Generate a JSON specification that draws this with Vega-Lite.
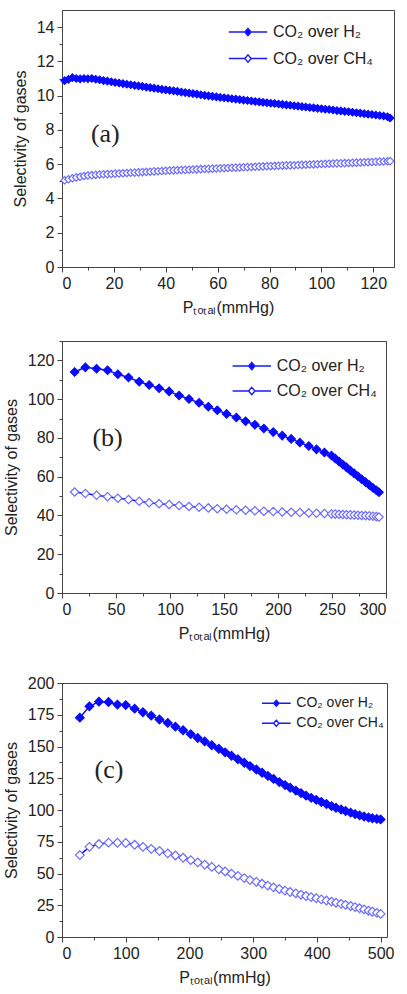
{
  "$schema": "https://vega.github.io/schema/vega-lite/v6.json",
  "background": "white",
  "padding": {"left": 2, "top": 9, "right": 5, "bottom": 2},
  "config": {
    "view": {"stroke": "#444", "strokeWidth": 1},
    "axis": {"labelFont": "Liberation Sans", "labelFontSize": 16, "labelColor": "#222", "titleFont": "Liberation Sans", "titleFontSize": 16, "titleFontWeight": "normal", "titleColor": "#222", "domainColor": "#444", "tickColor": "#444", "grid": false, "labelPadding": 3, "titlePadding": 8, "tickSize": 5}
  },
  "resolve": {"scale": {"fill": "independent"}, "legend": {"fill": "independent"}},
  "datasets": {
    "a": [
      {"p":1,"g":"H2","s":10.88},{"p":2.5,"g":"H2","s":10.95},{"p":4,"g":"H2","s":11.05},{"p":5.5,"g":"H2","s":11.0},{"p":7,"g":"H2","s":10.98},{"p":8.5,"g":"H2","s":11.0},{"p":10,"g":"H2","s":10.99},{"p":11.5,"g":"H2","s":11.0},{"p":13,"g":"H2","s":10.96},{"p":14.5,"g":"H2","s":10.93},{"p":16,"g":"H2","s":10.88},{"p":17.5,"g":"H2","s":10.85},{"p":19,"g":"H2","s":10.81},{"p":20.5,"g":"H2","s":10.77},{"p":22,"g":"H2","s":10.74},{"p":23.5,"g":"H2","s":10.70},{"p":25,"g":"H2","s":10.67},{"p":26.5,"g":"H2","s":10.64},{"p":28,"g":"H2","s":10.60},{"p":29.5,"g":"H2","s":10.57},{"p":31,"g":"H2","s":10.54},{"p":32.5,"g":"H2","s":10.50},{"p":34,"g":"H2","s":10.47},{"p":35.5,"g":"H2","s":10.44},{"p":37,"g":"H2","s":10.40},{"p":38.5,"g":"H2","s":10.37},{"p":40,"g":"H2","s":10.34},{"p":41.5,"g":"H2","s":10.31},{"p":43,"g":"H2","s":10.28},{"p":44.5,"g":"H2","s":10.25},{"p":46,"g":"H2","s":10.21},{"p":47.5,"g":"H2","s":10.18},{"p":49,"g":"H2","s":10.15},{"p":50.5,"g":"H2","s":10.12},{"p":52,"g":"H2","s":10.09},{"p":53.5,"g":"H2","s":10.05},{"p":55,"g":"H2","s":10.02},{"p":56.5,"g":"H2","s":9.99},{"p":58,"g":"H2","s":9.96},{"p":59.5,"g":"H2","s":9.93},{"p":61,"g":"H2","s":9.90},{"p":62.5,"g":"H2","s":9.88},{"p":64,"g":"H2","s":9.85},{"p":65.5,"g":"H2","s":9.82},{"p":67,"g":"H2","s":9.80},{"p":68.5,"g":"H2","s":9.77},{"p":70,"g":"H2","s":9.74},{"p":71.5,"g":"H2","s":9.72},{"p":73,"g":"H2","s":9.69},{"p":74.5,"g":"H2","s":9.66},{"p":76,"g":"H2","s":9.64},{"p":77.5,"g":"H2","s":9.61},{"p":79,"g":"H2","s":9.59},{"p":80.5,"g":"H2","s":9.56},{"p":82,"g":"H2","s":9.54},{"p":83.5,"g":"H2","s":9.51},{"p":85,"g":"H2","s":9.49},{"p":86.5,"g":"H2","s":9.46},{"p":88,"g":"H2","s":9.44},{"p":89.5,"g":"H2","s":9.41},{"p":91,"g":"H2","s":9.39},{"p":92.5,"g":"H2","s":9.36},{"p":94,"g":"H2","s":9.34},{"p":95.5,"g":"H2","s":9.31},{"p":97,"g":"H2","s":9.29},{"p":98.5,"g":"H2","s":9.26},{"p":100,"g":"H2","s":9.24},{"p":101.5,"g":"H2","s":9.21},{"p":103,"g":"H2","s":9.19},{"p":104.5,"g":"H2","s":9.16},{"p":106,"g":"H2","s":9.13},{"p":107.5,"g":"H2","s":9.11},{"p":109,"g":"H2","s":9.08},{"p":110.5,"g":"H2","s":9.06},{"p":112,"g":"H2","s":9.03},{"p":113.5,"g":"H2","s":9.00},{"p":115,"g":"H2","s":8.98},{"p":116.5,"g":"H2","s":8.95},{"p":118,"g":"H2","s":8.92},{"p":119.5,"g":"H2","s":8.90},{"p":121,"g":"H2","s":8.87},{"p":122.5,"g":"H2","s":8.84},{"p":124,"g":"H2","s":8.81},{"p":125.5,"g":"H2","s":8.77},{"p":126.5,"g":"H2","s":8.70},
      {"p":1,"g":"CH4","s":5.06},{"p":2.5,"g":"CH4","s":5.12},{"p":4,"g":"CH4","s":5.18},{"p":5.5,"g":"CH4","s":5.23},{"p":7,"g":"CH4","s":5.27},{"p":8.5,"g":"CH4","s":5.31},{"p":10,"g":"CH4","s":5.34},{"p":11.5,"g":"CH4","s":5.36},{"p":13,"g":"CH4","s":5.38},{"p":14.5,"g":"CH4","s":5.40},{"p":16,"g":"CH4","s":5.41},{"p":17.5,"g":"CH4","s":5.42},{"p":19,"g":"CH4","s":5.43},{"p":20.5,"g":"CH4","s":5.45},{"p":22,"g":"CH4","s":5.46},{"p":23.5,"g":"CH4","s":5.47},{"p":25,"g":"CH4","s":5.49},{"p":26.5,"g":"CH4","s":5.50},{"p":28,"g":"CH4","s":5.51},{"p":29.5,"g":"CH4","s":5.52},{"p":31,"g":"CH4","s":5.54},{"p":32.5,"g":"CH4","s":5.55},{"p":34,"g":"CH4","s":5.56},{"p":35.5,"g":"CH4","s":5.58},{"p":37,"g":"CH4","s":5.59},{"p":38.5,"g":"CH4","s":5.60},{"p":40,"g":"CH4","s":5.62},{"p":41.5,"g":"CH4","s":5.63},{"p":43,"g":"CH4","s":5.64},{"p":44.5,"g":"CH4","s":5.65},{"p":46,"g":"CH4","s":5.66},{"p":47.5,"g":"CH4","s":5.67},{"p":49,"g":"CH4","s":5.68},{"p":50.5,"g":"CH4","s":5.69},{"p":52,"g":"CH4","s":5.70},{"p":53.5,"g":"CH4","s":5.71},{"p":55,"g":"CH4","s":5.72},{"p":56.5,"g":"CH4","s":5.73},{"p":58,"g":"CH4","s":5.74},{"p":59.5,"g":"CH4","s":5.75},{"p":61,"g":"CH4","s":5.76},{"p":62.5,"g":"CH4","s":5.77},{"p":64,"g":"CH4","s":5.78},{"p":65.5,"g":"CH4","s":5.79},{"p":67,"g":"CH4","s":5.80},{"p":68.5,"g":"CH4","s":5.81},{"p":70,"g":"CH4","s":5.82},{"p":71.5,"g":"CH4","s":5.83},{"p":73,"g":"CH4","s":5.84},{"p":74.5,"g":"CH4","s":5.85},{"p":76,"g":"CH4","s":5.86},{"p":77.5,"g":"CH4","s":5.87},{"p":79,"g":"CH4","s":5.88},{"p":80.5,"g":"CH4","s":5.89},{"p":82,"g":"CH4","s":5.90},{"p":83.5,"g":"CH4","s":5.91},{"p":85,"g":"CH4","s":5.92},{"p":86.5,"g":"CH4","s":5.93},{"p":88,"g":"CH4","s":5.93},{"p":89.5,"g":"CH4","s":5.94},{"p":91,"g":"CH4","s":5.95},{"p":92.5,"g":"CH4","s":5.96},{"p":94,"g":"CH4","s":5.97},{"p":95.5,"g":"CH4","s":5.98},{"p":97,"g":"CH4","s":5.99},{"p":98.5,"g":"CH4","s":6.00},{"p":100,"g":"CH4","s":6.01},{"p":101.5,"g":"CH4","s":6.02},{"p":103,"g":"CH4","s":6.03},{"p":104.5,"g":"CH4","s":6.04},{"p":106,"g":"CH4","s":6.05},{"p":107.5,"g":"CH4","s":6.05},{"p":109,"g":"CH4","s":6.06},{"p":110.5,"g":"CH4","s":6.07},{"p":112,"g":"CH4","s":6.08},{"p":113.5,"g":"CH4","s":6.09},{"p":115,"g":"CH4","s":6.10},{"p":116.5,"g":"CH4","s":6.11},{"p":118,"g":"CH4","s":6.12},{"p":119.5,"g":"CH4","s":6.13},{"p":121,"g":"CH4","s":6.14},{"p":122.5,"g":"CH4","s":6.15},{"p":124,"g":"CH4","s":6.16},{"p":125.5,"g":"CH4","s":6.17},{"p":126.5,"g":"CH4","s":6.18}
    ],
    "b": [
      {"p":11.7,"g":"H2","s":114.0},{"p":21.6,"g":"H2","s":116.4},{"p":32,"g":"H2","s":115.7},{"p":42.2,"g":"H2","s":114.9},{"p":51.7,"g":"H2","s":112.8},{"p":61.6,"g":"H2","s":111.2},{"p":71.5,"g":"H2","s":109.0},{"p":80.7,"g":"H2","s":107.3},{"p":89.9,"g":"H2","s":105.6},{"p":99.2,"g":"H2","s":104.0},{"p":108.4,"g":"H2","s":101.9},{"p":117.6,"g":"H2","s":100.1},{"p":126.9,"g":"H2","s":98.1},{"p":135.5,"g":"H2","s":96.1},{"p":143.8,"g":"H2","s":94.3},{"p":152.4,"g":"H2","s":92.4},{"p":161.4,"g":"H2","s":90.5},{"p":170,"g":"H2","s":88.6},{"p":178.6,"g":"H2","s":86.8},{"p":186.9,"g":"H2","s":84.9},{"p":195.6,"g":"H2","s":83.0},{"p":203.9,"g":"H2","s":81.2},{"p":212.2,"g":"H2","s":79.5},{"p":220.2,"g":"H2","s":77.6},{"p":228.5,"g":"H2","s":75.8},{"p":235.6,"g":"H2","s":74.1},{"p":243,"g":"H2","s":72.5},{"p":249.5,"g":"H2","s":70.9},{"p":253,"g":"H2","s":69.4},{"p":256.5,"g":"H2","s":67.8},{"p":260,"g":"H2","s":66.3},{"p":263.5,"g":"H2","s":64.8},{"p":267,"g":"H2","s":63.2},{"p":270.5,"g":"H2","s":61.7},{"p":274,"g":"H2","s":60.2},{"p":277.5,"g":"H2","s":58.7},{"p":281,"g":"H2","s":57.2},{"p":284.5,"g":"H2","s":55.7},{"p":288,"g":"H2","s":54.2},{"p":291,"g":"H2","s":53.0},{"p":293.5,"g":"H2","s":52.0},
      {"p":11.7,"g":"CH4","s":52.1},{"p":21.6,"g":"CH4","s":51.3},{"p":32,"g":"CH4","s":50.4},{"p":42.2,"g":"CH4","s":49.7},{"p":51.7,"g":"CH4","s":48.9},{"p":61.6,"g":"CH4","s":48.2},{"p":71.5,"g":"CH4","s":47.3},{"p":80.7,"g":"CH4","s":46.6},{"p":89.9,"g":"CH4","s":46.1},{"p":99.2,"g":"CH4","s":45.6},{"p":108.4,"g":"CH4","s":45.1},{"p":117.6,"g":"CH4","s":44.6},{"p":126.9,"g":"CH4","s":44.2},{"p":135.5,"g":"CH4","s":43.9},{"p":143.8,"g":"CH4","s":43.5},{"p":152.4,"g":"CH4","s":43.2},{"p":161.4,"g":"CH4","s":42.9},{"p":170,"g":"CH4","s":42.7},{"p":178.6,"g":"CH4","s":42.4},{"p":186.9,"g":"CH4","s":42.2},{"p":195.6,"g":"CH4","s":42.0},{"p":203.9,"g":"CH4","s":41.8},{"p":212.2,"g":"CH4","s":41.7},{"p":220.2,"g":"CH4","s":41.5},{"p":228.5,"g":"CH4","s":41.3},{"p":235.6,"g":"CH4","s":41.1},{"p":243,"g":"CH4","s":41.0},{"p":249.5,"g":"CH4","s":40.8},{"p":253,"g":"CH4","s":40.7},{"p":256.5,"g":"CH4","s":40.6},{"p":260,"g":"CH4","s":40.5},{"p":263.5,"g":"CH4","s":40.4},{"p":267,"g":"CH4","s":40.3},{"p":270.5,"g":"CH4","s":40.2},{"p":274,"g":"CH4","s":40.1},{"p":277.5,"g":"CH4","s":40.0},{"p":281,"g":"CH4","s":39.9},{"p":284.5,"g":"CH4","s":39.8},{"p":288,"g":"CH4","s":39.6},{"p":291,"g":"CH4","s":39.4},{"p":293.5,"g":"CH4","s":39.2}
    ],
    "c": [
      {"p":28,"g":"H2","s":172.7},{"p":43,"g":"H2","s":181.6},{"p":58,"g":"H2","s":185.3},{"p":73,"g":"H2","s":185.0},{"p":87,"g":"H2","s":183.0},{"p":100,"g":"H2","s":182.6},{"p":114,"g":"H2","s":179.8},{"p":127,"g":"H2","s":177.0},{"p":140,"g":"H2","s":174.3},{"p":153,"g":"H2","s":171.3},{"p":166,"g":"H2","s":168.6},{"p":178,"g":"H2","s":165.6},{"p":190,"g":"H2","s":162.8},{"p":202,"g":"H2","s":159.7},{"p":213,"g":"H2","s":156.7},{"p":224,"g":"H2","s":154.0},{"p":235,"g":"H2","s":151.0},{"p":246,"g":"H2","s":148.2},{"p":256,"g":"H2","s":145.4},{"p":266,"g":"H2","s":142.7},{"p":276,"g":"H2","s":140.0},{"p":286,"g":"H2","s":137.2},{"p":295,"g":"H2","s":134.6},{"p":305,"g":"H2","s":131.9},{"p":314,"g":"H2","s":129.3},{"p":323,"g":"H2","s":126.9},{"p":332,"g":"H2","s":124.5},{"p":341,"g":"H2","s":122.0},{"p":350,"g":"H2","s":119.6},{"p":358,"g":"H2","s":117.5},{"p":367,"g":"H2","s":115.3},{"p":375,"g":"H2","s":113.3},{"p":383,"g":"H2","s":111.3},{"p":391,"g":"H2","s":109.6},{"p":399,"g":"H2","s":108.0},{"p":407,"g":"H2","s":106.3},{"p":415,"g":"H2","s":104.7},{"p":423,"g":"H2","s":103.1},{"p":430,"g":"H2","s":101.8},{"p":438,"g":"H2","s":100.4},{"p":445,"g":"H2","s":99.2},{"p":453,"g":"H2","s":97.9},{"p":460,"g":"H2","s":96.8},{"p":467,"g":"H2","s":95.8},{"p":474,"g":"H2","s":94.9},{"p":481,"g":"H2","s":94.1},{"p":487,"g":"H2","s":93.5},{"p":494,"g":"H2","s":93.0},{"p":500,"g":"H2","s":92.6},
      {"p":28,"g":"CH4","s":64.5},{"p":43,"g":"CH4","s":71.0},{"p":58,"g":"CH4","s":73.2},{"p":73,"g":"CH4","s":74.3},{"p":87,"g":"CH4","s":74.2},{"p":100,"g":"CH4","s":74.0},{"p":114,"g":"CH4","s":72.6},{"p":127,"g":"CH4","s":71.0},{"p":140,"g":"CH4","s":69.4},{"p":153,"g":"CH4","s":67.7},{"p":166,"g":"CH4","s":65.9},{"p":178,"g":"CH4","s":64.2},{"p":190,"g":"CH4","s":62.4},{"p":202,"g":"CH4","s":60.5},{"p":213,"g":"CH4","s":58.8},{"p":224,"g":"CH4","s":57.0},{"p":235,"g":"CH4","s":55.2},{"p":246,"g":"CH4","s":53.3},{"p":256,"g":"CH4","s":51.6},{"p":266,"g":"CH4","s":49.9},{"p":276,"g":"CH4","s":48.1},{"p":286,"g":"CH4","s":46.4},{"p":295,"g":"CH4","s":44.8},{"p":305,"g":"CH4","s":43.4},{"p":314,"g":"CH4","s":41.9},{"p":323,"g":"CH4","s":40.5},{"p":332,"g":"CH4","s":39.1},{"p":341,"g":"CH4","s":37.8},{"p":350,"g":"CH4","s":36.5},{"p":358,"g":"CH4","s":35.4},{"p":367,"g":"CH4","s":34.3},{"p":375,"g":"CH4","s":33.3},{"p":383,"g":"CH4","s":32.3},{"p":391,"g":"CH4","s":31.4},{"p":399,"g":"CH4","s":30.5},{"p":407,"g":"CH4","s":29.6},{"p":415,"g":"CH4","s":28.7},{"p":423,"g":"CH4","s":27.8},{"p":430,"g":"CH4","s":27.0},{"p":438,"g":"CH4","s":26.1},{"p":445,"g":"CH4","s":25.3},{"p":453,"g":"CH4","s":24.4},{"p":460,"g":"CH4","s":23.5},{"p":467,"g":"CH4","s":22.6},{"p":474,"g":"CH4","s":21.7},{"p":481,"g":"CH4","s":20.7},{"p":487,"g":"CH4","s":19.9},{"p":494,"g":"CH4","s":19.0},{"p":500,"g":"CH4","s":18.2}
    ]
  },
  "vconcat": [
    {
      "resolve": {"scale": {"fill": "independent"}, "legend": {"fill": "independent"}},
      "vconcat": [
        {
          "width": 332, "height": 257,
          "data": {"name": "a"},
          "resolve": {"axis": {"x": "independent", "y": "independent"}},
          "layer": [
            {
              "mark": {"type": "line", "strokeWidth": 1.5, "color": "#0c0cf0"},
              "encoding": {
                "x": {"field": "p", "type": "quantitative", "scale": {"domain": [0, 128], "nice": false},
                  "axis": {"orient": "bottom", "title": "Pₜₒₜₐₗ(mmHg)", "values": [0,20,40,60,80,100,120]}},
                "y": {"field": "s", "type": "quantitative", "scale": {"domain": [0, 15], "nice": false},
                  "axis": {"orient": "left", "title": "Selectivity of gases", "values": [0,2,4,6,8,10,12,14]}},
                "detail": {"field": "g", "type": "nominal"}
              }
            },
            {
              "mark": {"type": "point", "shape": "diamond", "size": 55, "opacity": 1, "strokeWidth": 1.2},
              "encoding": {
                "x": {"field": "p", "type": "quantitative", "axis": {"orient": "bottom", "title": null, "labels": false, "domain": false, "tickSize": 3, "values": [10,30,50,70,90,110]}},
                "y": {"field": "s", "type": "quantitative", "axis": {"orient": "left", "title": null, "labels": false, "domain": false, "tickSize": 3, "values": [1,3,5,7,9,11,13]}},
                "fill": {"field": "g", "type": "nominal", "scale": {"domain": ["H2", "CH4"], "range": ["#0a0aff", "#ffffff"]},
                  "legend": {"title": null, "orient": "none", "legendX": 178, "legendY": 14, "padding": 0, "symbolType": "M-4.8,0H-0.8M0.8,0H4.8M0,-0.9L0.8,0L0,0.9L-0.8,0Z", "symbolSize": 64, "symbolStrokeWidth": 1.4, "symbolStrokeColor": "#1a1aff", "labelFont": "Liberation Sans", "labelFontSize": 16, "labelColor": "#222", "labelOffset": 17, "rowPadding": 10.5, "labelExpr": "datum.value === 'H2' ? 'CO₂ over H₂' : 'CO₂ over CH₄'"}},
                "stroke": {"condition": {"test": "datum.g === 'H2'", "value": "#0a0aff"}, "value": "#6b6bff"}
              }
            },
            {
              "data": {"values": [{}]},
              "mark": {"type": "text", "font": "Liberation Serif", "fontSize": 26, "color": "#222"},
              "encoding": {"x": {"datum": 16.7, "type": "quantitative", "axis": null}, "y": {"datum": 7.74, "type": "quantitative", "axis": null}, "text": {"value": "(a)"}}
            }
          ]
        },
        {
          "width": 324, "height": 252,
          "data": {"name": "b"},
          "resolve": {"axis": {"x": "independent", "y": "independent"}},
          "layer": [
            {
              "mark": {"type": "line", "strokeWidth": 1.5, "color": "#0c0cf0"},
              "encoding": {
                "x": {"field": "p", "type": "quantitative", "scale": {"domain": [0, 300], "nice": false},
                  "axis": {"orient": "bottom", "title": "Pₜₒₜₐₗ(mmHg)", "values": [0,50,100,150,200,250,300]}},
                "y": {"field": "s", "type": "quantitative", "scale": {"domain": [0, 130], "nice": false},
                  "axis": {"orient": "left", "title": "Selectivity of gases", "values": [0,20,40,60,80,100,120]}},
                "detail": {"field": "g", "type": "nominal"}
              }
            },
            {
              "mark": {"type": "point", "shape": "diamond", "size": 70, "opacity": 1, "strokeWidth": 1.2},
              "encoding": {
                "x": {"field": "p", "type": "quantitative", "axis": {"orient": "bottom", "title": null, "labels": false, "domain": false, "tickSize": 3, "values": [25,75,125,175,225,275]}},
                "y": {"field": "s", "type": "quantitative", "axis": {"orient": "left", "title": null, "labels": false, "domain": false, "tickSize": 3, "values": [10,30,50,70,90,110,130]}},
                "fill": {"field": "g", "type": "nominal", "scale": {"domain": ["H2", "CH4"], "range": ["#0a0aff", "#ffffff"]},
                  "legend": {"title": null, "orient": "none", "legendX": 181.8, "legendY": 17, "padding": 0, "symbolType": "M-4.8,0H-0.8M0.8,0H4.8M0,-0.9L0.8,0L0,0.9L-0.8,0Z", "symbolSize": 64, "symbolStrokeWidth": 1.4, "symbolStrokeColor": "#1a1aff", "labelFont": "Liberation Sans", "labelFontSize": 16, "labelColor": "#222", "labelOffset": 17, "rowPadding": 9, "labelExpr": "datum.value === 'H2' ? 'CO₂ over H₂' : 'CO₂ over CH₄'"}},
                "stroke": {"condition": {"test": "datum.g === 'H2'", "value": "#0a0aff"}, "value": "#6b6bff"}
              }
            },
            {
              "data": {"values": [{}]},
              "mark": {"type": "text", "font": "Liberation Serif", "fontSize": 26, "color": "#222"},
              "encoding": {"x": {"datum": 42.2, "type": "quantitative", "axis": null}, "y": {"datum": 80.1, "type": "quantitative", "axis": null}, "text": {"value": "(b)"}}
            }
          ]
        }
      ],
      "spacing": 24
    },
    {
      "width": 325, "height": 254,
      "data": {"name": "c"},
      "resolve": {"axis": {"x": "independent", "y": "independent"}},
      "layer": [
        {
          "mark": {"type": "line", "strokeWidth": 1.5, "color": "#0c0cf0"},
          "encoding": {
            "x": {"field": "p", "type": "quantitative", "scale": {"domain": [0, 510], "nice": false},
              "axis": {"orient": "bottom", "title": "Pₜₒₜₐₗ(mmHg)", "values": [0,100,200,300,400,500]}},
            "y": {"field": "s", "type": "quantitative", "scale": {"domain": [0, 200], "nice": false},
              "axis": {"orient": "left", "title": "Selectivity of gases", "values": [0,25,50,75,100,125,150,175,200]}},
            "detail": {"field": "g", "type": "nominal"}
          }
        },
        {
          "mark": {"type": "point", "shape": "diamond", "size": 75, "opacity": 1, "strokeWidth": 1.2},
          "encoding": {
            "x": {"field": "p", "type": "quantitative", "axis": {"orient": "bottom", "title": null, "labels": false, "domain": false, "tickSize": 3, "values": [50,150,250,350,450]}},
            "y": {"field": "s", "type": "quantitative", "axis": {"orient": "left", "title": null, "labels": false, "domain": false, "tickSize": 3, "values": [12.5,37.5,62.5,87.5,112.5,137.5,162.5,187.5]}},
            "fill": {"field": "g", "type": "nominal", "scale": {"domain": ["H2", "CH4"], "range": ["#0a0aff", "#ffffff"]},
              "legend": {"title": null, "orient": "none", "legendX": 207.3, "legendY": 13.3, "padding": 0, "symbolType": "M-4.8,0H-0.8M0.8,0H4.8M0,-1L0.9,0L0,1L-0.9,0Z", "symbolSize": 36, "symbolStrokeWidth": 1.4, "symbolStrokeColor": "#1a1aff", "labelFont": "Liberation Sans", "labelFontSize": 14, "labelColor": "#222", "labelOffset": 13, "rowPadding": 6, "labelExpr": "datum.value === 'H2' ? 'CO₂ over H₂' : 'CO₂ over CH₄'"}},
            "stroke": {"condition": {"test": "datum.g === 'H2'", "value": "#0a0aff"}, "value": "#6b6bff"}
          }
        },
        {
          "data": {"values": [{}]},
          "mark": {"type": "text", "font": "Liberation Serif", "fontSize": 26, "color": "#222"},
          "encoding": {"x": {"datum": 73.7, "type": "quantitative", "axis": null}, "y": {"datum": 131.8, "type": "quantitative", "axis": null}, "text": {"value": "(c)"}}
        }
      ]
    }
  ],
  "spacing": 32
}
